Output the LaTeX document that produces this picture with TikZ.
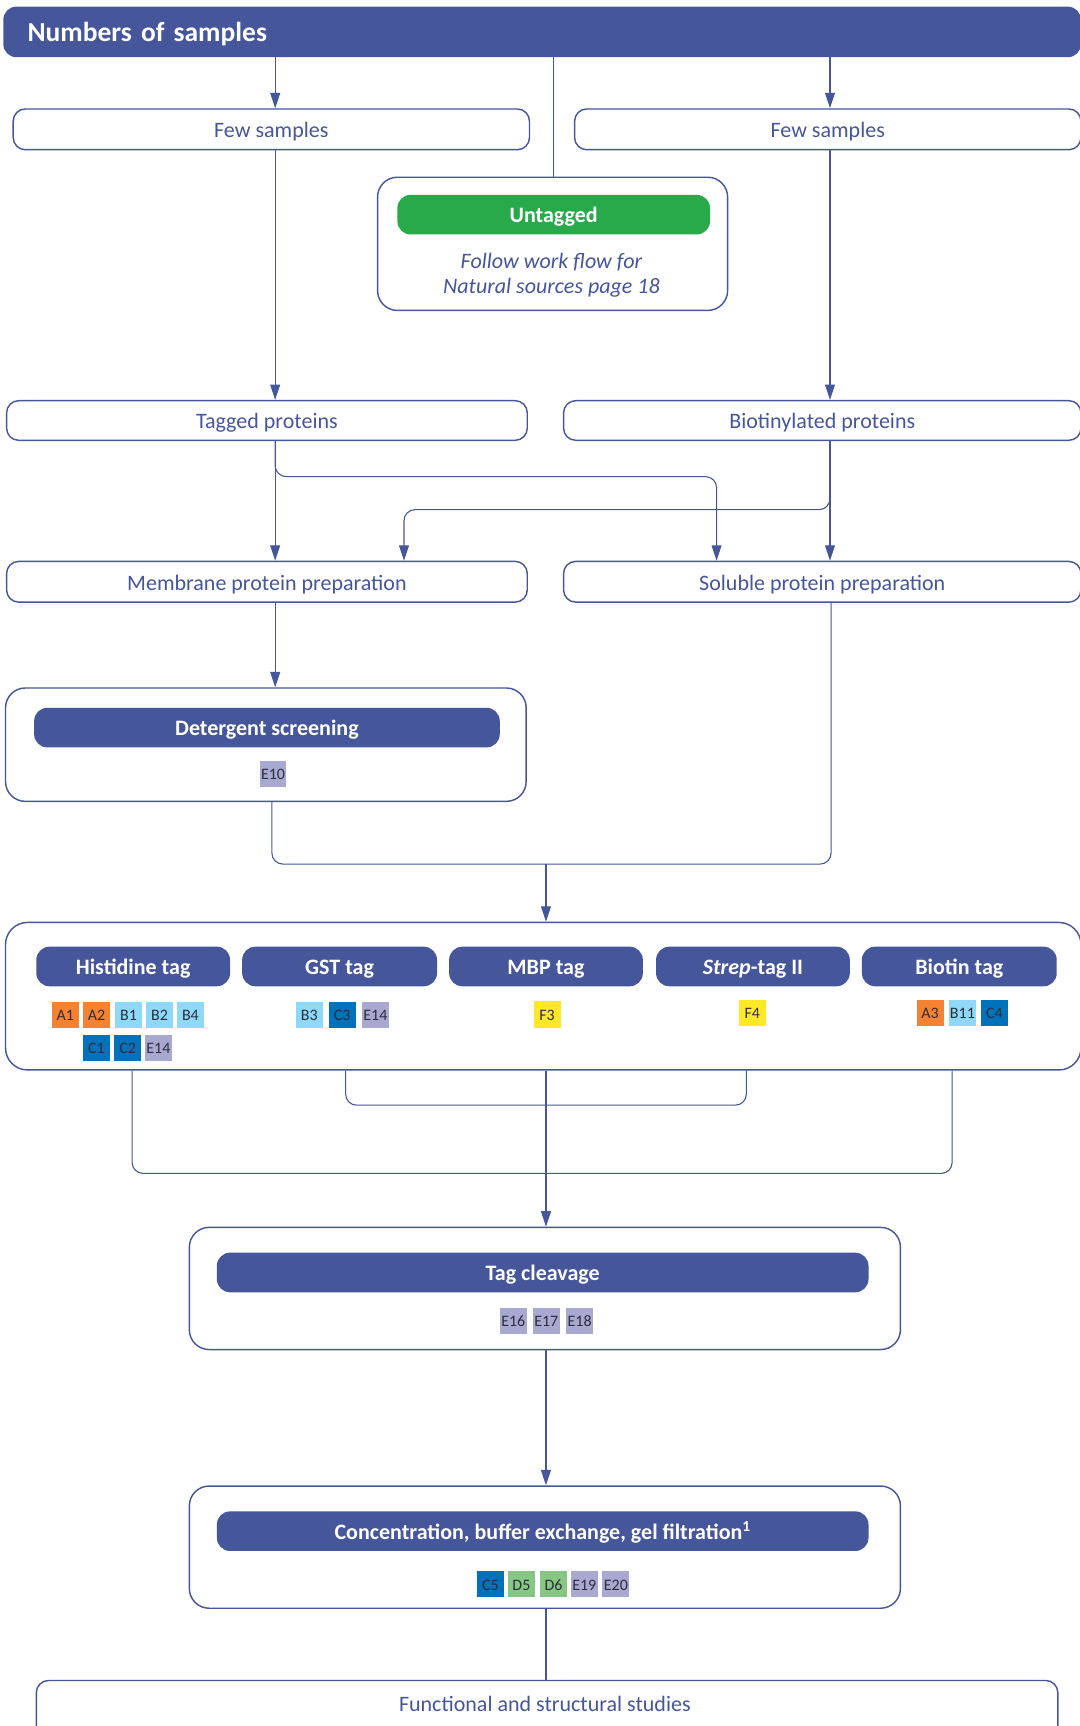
\documentclass[tikz,border=0pt]{standalone}
\usepackage{fontspec}
\setmainfont{Carlito}
\usetikzlibrary{arrows.meta,calc}
\definecolor{navy}{RGB}{70,86,155}
\definecolor{ugreen}{RGB}{40,170,74}
\definecolor{corange}{RGB}{245,130,50}
\definecolor{clblue}{RGB}{142,216,248}
\definecolor{cdblue}{RGB}{0,114,188}
\definecolor{clav}{RGB}{167,169,209}
\definecolor{cyellow}{RGB}{255,233,38}
\definecolor{cgreen}{RGB}{134,200,131}
\definecolor{chiptxt}{RGB}{45,45,60}
\begin{document}
\begin{tikzpicture}[x=1pt,y=-1pt,
  frame/.style={draw=navy,line width=1.3pt,fill=white,inner sep=0pt},
  lbox/.style={frame,rounded corners=11pt,text=navy,font=\fontsize{20}{24}\selectfont,text height=16pt,text depth=1pt},
  bigbox/.style={frame,rounded corners=18pt},
  pill/.style={fill=navy,rounded corners=12pt,text=white,inner sep=0pt,minimum height=36pt,font=\bfseries\fontsize{20}{24}\selectfont,text height=16pt,text depth=1pt},
  chip/.style={minimum width=24.4pt,minimum height=24pt,inner sep=0pt,text=chiptxt,font=\fontsize{14.5}{16}\selectfont,text height=11pt,text depth=0pt},
  conn/.style={draw=navy,line width=1pt},
  arr/.style={conn,-{Triangle[length=14pt,width=9pt]}},
]
\useasboundingbox (0,0) rectangle (981,1568);

% key x positions
\coordinate (xL) at (250,0);
\coordinate (xR) at (754,0);
\coordinate (xC) at (496,0);

% header
\node[fill=navy,rounded corners=12pt,minimum height=46pt,text width=935pt,inner xsep=22pt,inner ysep=0pt,align=left,text=white,font=\bfseries\fontsize{25}{30}\selectfont,text height=19pt,text depth=2pt] (header) at (492.5,29) {Numbers of samples};

% first row
\node[lbox,minimum width=469pt,minimum height=37pt] (fewL) at (246.5,117.5) {Few samples};
\node[lbox,minimum width=460pt,minimum height=37pt] (fewR) at (752,117.5) {Few samples};

% untagged
\node[bigbox,minimum width=318pt,minimum height=121pt] (untag) at (502,221.5) {};
\node[pill,fill=ugreen,minimum width=284pt] (untagpill) at (503,195) {Untagged};
\node[text=navy,align=center,font=\itshape\fontsize{20}{22}\selectfont] (untagtxt) at (501,250) {Follow work flow for\\Natural sources page 18};

% second row
\node[lbox,minimum width=473pt,minimum height=36pt] (tagged) at (242.5,382) {Tagged proteins};
\node[lbox,minimum width=470pt,minimum height=36pt] (biot) at (747,382) {Biotinylated proteins};

% third row
\node[lbox,minimum width=473pt,minimum height=37pt] (membrane) at (242.5,528.5) {Membrane protein preparation};
\node[lbox,minimum width=470pt,minimum height=37pt] (soluble) at (747,528.5) {Soluble protein preparation};

% detergent
\node[bigbox,minimum width=473pt,minimum height=103pt] (deter) at (241.5,676.5) {};
\node[pill,minimum width=423pt] (deterpill) at (242.5,661) {Detergent screening};
\node[chip,fill=clav] (dE10) at (248,703) {E10};

% tags
\node[frame,rounded corners=20pt,minimum width=977pt,minimum height=134pt] (tags) at (493.5,905) {};
\node[pill,minimum width=176pt] (his) at (121,878) {Histidine tag};
\node[pill,minimum width=177pt] (gst) at (308.5,878) {GST tag};
\node[pill,minimum width=176pt] (mbp) at (496,878) {MBP tag};
\node[pill,minimum width=176pt] (strep) at (684,878) {\textit{Strep}-tag II};
\node[pill,minimum width=177pt] (biotin) at (871.5,878) {Biotin tag};

\node[chip,fill=corange] (hA1) at (59.4,922) {A1};
\node[chip,fill=corange] (hA2) at (87.6,922) {A2};
\node[chip,fill=clblue] (hB1) at (116.7,922) {B1};
\node[chip,fill=clblue] (hB2) at (144.9,922) {B2};
\node[chip,fill=clblue] (hB4) at (173,922) {B4};
\node[chip,fill=cdblue] (hC1) at (87.6,952) {C1};
\node[chip,fill=cdblue] (hC2) at (115.9,952) {C2};
\node[chip,fill=clav] (hE14) at (143.9,952) {E14};

\node[chip,fill=clblue] (gB3) at (281,922) {B3};
\node[chip,fill=cdblue] (gC3) at (310.9,922) {C3};
\node[chip,fill=clav] (gE14) at (341,922) {E14};

\node[chip,fill=cyellow] (mF3) at (497,921.5) {F3};
\node[chip,fill=cyellow] (sF4) at (683.5,920) {F4};

\node[chip,fill=corange] (bA3) at (845,920) {A3};
\node[chip,fill=clblue] (bB11) at (874.3,920) {B11};
\node[chip,fill=cdblue] (bC4) at (903.3,920) {C4};

% tag cleavage
\node[bigbox,minimum width=646pt,minimum height=111pt] (cleave) at (495,1170.5) {};
\node[pill,minimum width=592pt] (cleavepill) at (493,1156) {Tag cleavage};
\node[chip,fill=clav] (cE16) at (466.3,1200) {E16};
\node[chip,fill=clav] (cE17) at (496.3,1200) {E17};
\node[chip,fill=clav] (cE18) at (526.6,1200) {E18};

% concentration
\node[bigbox,minimum width=646pt,minimum height=111pt] (conc) at (495,1405.5) {};
\node[pill,minimum width=592pt] (concpill) at (493,1391) {Concentration, buffer exchange, gel filtration\textsuperscript{1}};
\node[chip,fill=cdblue] (kC5) at (445.6,1439) {C5};
\node[chip,fill=cgreen] (kD5) at (473.7,1439) {D5};
\node[chip,fill=cgreen] (kD6) at (502.8,1439) {D6};
\node[chip,fill=clav] (kE19) at (530.8,1439) {E19};
\node[chip,fill=clav] (kE20) at (559.5,1439) {E20};

% functional
\node[lbox,minimum width=928pt,minimum height=70pt,anchor=north] (func) at (497,1526) {};
\node[text=navy,font=\fontsize{20}{24}\selectfont,text height=16pt,text depth=1pt] (functxt) at (495,1547) {Functional and structural studies};

% helper coordinates for elbows
\coordinate (t1) at (651,433);
\coordinate (b1) at (367,463);
\coordinate (d1) at (247,0);
\coordinate (m2) at (755,785);
\coordinate (m1) at (496,785);
\coordinate (k1) at (865,1066);
\coordinate (k2) at (678,1004);
\coordinate (hx) at (120,0);
\coordinate (gx) at (314,0);

% connectors
\draw[arr] (header.south -| xL) -- (fewL.north -| xL);
\draw[arr] (header.south -| xR) -- (fewR.north -| xR);
\draw[conn] (header.south -| untagpill) -- (untag.north -| untagpill);
\draw[arr] (fewL.south -| xL) -- (tagged.north -| xL);
\draw[arr] (fewR.south -| xR) -- (biot.north -| xR);
\draw[arr] (tagged.south -| xL) -- (membrane.north -| xL);
\draw[arr,rounded corners=10pt] (tagged.south -| xL) |- (t1) -- (soluble.north -| t1);
\draw[arr,rounded corners=10pt] (biot.south -| xR) |- (b1) -- (membrane.north -| b1);
\draw[arr] (biot.south -| xR) -- (soluble.north -| xR);
\draw[arr] (membrane.south -| xL) -- (deter.north -| xL);
\draw[conn,rounded corners=10pt] (deter.south -| d1) |- (m2) -- (soluble.south -| m2);
\draw[arr] (m1) -- (tags.north -| m1);
\draw[conn,rounded corners=10pt] (tags.south -| hx) |- (k1) -- (tags.south -| k1);
\draw[conn,rounded corners=10pt] (tags.south -| gx) |- (k2) -- (tags.south -| k2);
\draw[arr] (tags.south -| xC) -- (cleave.north -| xC);
\draw[arr] (cleave.south -| xC) -- (conc.north -| xC);
\draw[conn] (conc.south -| xC) -- (func.north -| xC);
\end{tikzpicture}
\end{document}
